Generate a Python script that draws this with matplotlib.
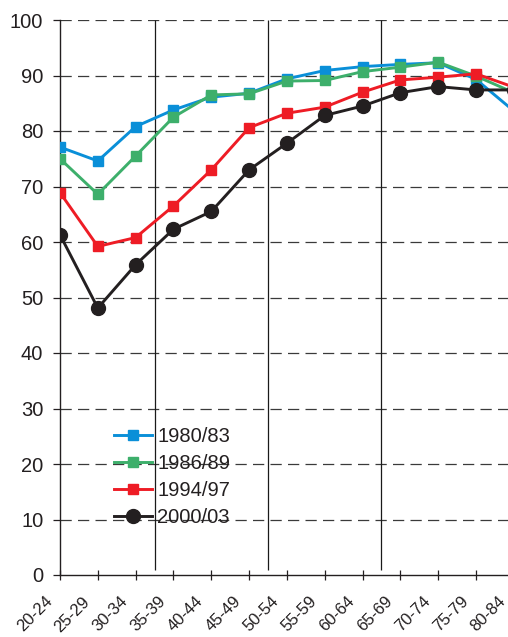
import matplotlib
matplotlib.use("Agg")
import matplotlib.pyplot as plt
from matplotlib.transforms import ScaledTranslation

age_groups = ["20-24", "25-29", "30-34", "35-39", "40-44", "45-49", "50-54",
              "55-59", "60-64", "65-69", "70-74", "75-79", "80-84"]
s_1980_83 = [77.1, 74.6, 80.8, 83.8, 86.1, 86.8, 89.4, 90.9, 91.6, 92.0, 92.3, 89.3, 83.6]
s_1986_89 = [75.0, 68.6, 75.5, 82.5, 86.5, 86.7, 89.0, 89.1, 90.7, 91.5, 92.4, 89.9, 86.9]
s_1994_97 = [68.9, 59.2, 60.8, 66.5, 73.0, 80.6, 83.2, 84.3, 87.0, 89.2, 89.7, 90.3, 87.9]
s_2000_03 = [61.3, 48.1, 55.9, 62.3, 65.5, 73.0, 77.8, 82.8, 84.5, 86.9, 88.0, 87.4, 87.4]
series_labels = ["1980/83", "1986/89", "1994/97", "2000/03"]
y_ticks = [0, 10, 20, 30, 40, 50, 60, 70, 80, 90, 100]
separators = [2.5, 5.5, 8.5]

plt.rcParams['font.family'] = ['Liberation Sans', 'DejaVu Sans']

W, H = 508, 637
step = 37.82          # pixels per category
x_right = 12.3        # axes extends past the figure edge (clipped like the original)
fig = plt.figure(figsize=(W / 100, H / 100), dpi=100)
ax = fig.add_axes([60 / W, 62 / H, x_right * step / W, 555 / H])

x = list(range(len(age_groups)))
colors = ["#0a8fd8", "#3daf6b", "#ee1c25", "#231f20"]
data = [s_1980_83, s_1986_89, s_1994_97, s_2000_03]
for i, (vals, lab, c) in enumerate(zip(data, series_labels, colors)):
    if i < 3:
        ax.plot(x, vals, color=c, lw=2.1, marker='s', ms=7, mec=c, mfc=c, label=lab, zorder=3 + i)
    else:
        ax.plot(x, vals, color=c, lw=2.1, marker='o', ms=10, mec=c, mfc=c, label=lab, zorder=3 + i)

# grid lines
for yv in y_ticks[1:]:
    ax.axhline(yv, color='#3a3a3a', lw=0.9, ls=(0, (9, 5)), zorder=1)
ax.vlines(separators, 0.9, 100, color='#1a1a1a', lw=0.9, zorder=2)

ax.set_yticks(y_ticks)
ax.set_xticks(x)
ax.set_xticklabels(age_groups, rotation=45, ha='right', fontsize=12)
ax.set_xlim(0, x_right)
ax.set_ylim(0, 100)
ax.tick_params(axis='y', direction='out', length=5, width=0.9, pad=7, labelsize=14.5, colors='#231f20')
ax.tick_params(axis='x', direction='inout', length=7, width=0.9, pad=10, colors='#231f20')

shift = ScaledTranslation(-5 / 100, 0, fig.dpi_scale_trans)
for lbl in ax.get_xticklabels():
    lbl.set_transform(lbl.get_transform() + shift)

for side in ['top', 'right']:
    ax.spines[side].set_visible(False)
for side in ['left', 'bottom']:
    ax.spines[side].set_linewidth(1.0)
    ax.spines[side].set_color('#231f20')

leg = ax.legend(loc='upper left', bbox_to_anchor=(113.8 / W, 1 - 427.5 / H),
                bbox_transform=fig.transFigure, frameon=False,
                fontsize=14.5, borderpad=0, handlelength=1.9, handletextpad=0.25,
                labelspacing=0.39, borderaxespad=0)
for t in leg.get_texts():
    t.set_color('#231f20')

fig.savefig("out.png", dpi=100)
